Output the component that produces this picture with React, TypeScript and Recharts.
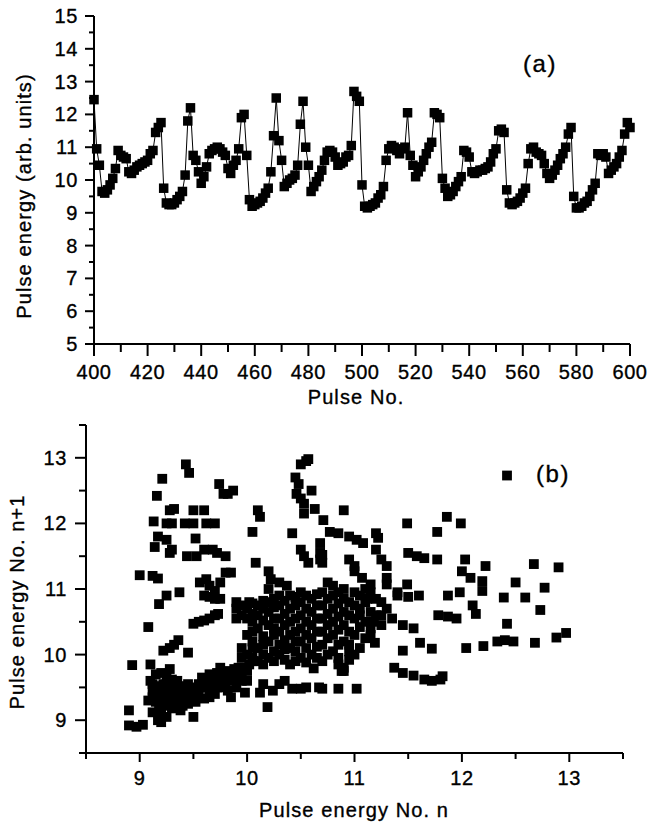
import React from 'react';
import { LineChart, Line, XAxis, YAxis, ScatterChart, Scatter } from 'recharts';

const FONT = '"Liberation Sans", Arial, Helvetica, sans-serif';

// ---------- panel (a): pulse energy vs pulse number ----------
const firstPulse = 400;
const pulseEnergy = [
  12.45, 10.95, 10.45, 9.65, 9.6, 9.7, 9.85, 10.05, 10.35, 10.9,
  10.75, 10.7, 10.65, 10.25, 10.2, 10.3, 10.4, 10.45, 10.5, 10.55,
  10.6, 10.8, 10.9, 11.45, 11.6, 11.75, 9.75, 9.3, 9.25, 9.25,
  9.3, 9.4, 9.5, 9.65, 10.15, 11.8, 12.2, 10.75, 10.6, 10.25,
  9.9, 10.1, 10.4, 10.8, 10.9, 10.95, 11.0, 10.95, 10.85, 10.75,
  10.35, 10.2, 10.45, 10.6, 10.95, 11.9, 12.0, 10.75, 9.4, 9.2,
  9.25, 9.3, 9.35, 9.45, 9.6, 9.75, 10.25, 11.35, 12.5, 11.2,
  10.6, 9.8, 9.9, 10.0, 10.05, 10.15, 10.45, 11.7, 12.4, 11.0,
  10.45, 9.65, 9.8, 9.95, 10.1, 10.3, 10.6, 10.85, 10.9, 10.85,
  10.7, 10.45, 10.5, 10.55, 10.7, 10.75, 11.05, 12.7, 12.55, 12.4,
  9.85, 9.2, 9.15, 9.2, 9.25, 9.3, 9.45, 9.55, 9.8, 10.6,
  10.95, 11.05, 11.0, 10.9, 10.8, 10.95, 11.0, 12.05, 10.75, 10.45,
  10.1, 10.25, 10.4, 10.6, 10.8, 11.0, 11.15, 12.05, 12.0, 11.9,
  10.05, 9.75, 9.5, 9.55, 9.65, 9.8, 9.95, 10.1, 10.9, 10.85,
  10.7, 10.25, 10.2, 10.25, 10.3, 10.3, 10.35, 10.4, 10.55, 10.8,
  10.95, 11.5, 11.55, 11.45, 9.7, 9.3, 9.25, 9.3, 9.35, 9.45,
  9.6, 9.75, 10.5, 10.95, 11.0, 10.85, 10.8, 10.75, 10.5, 10.2,
  10.05, 10.15, 10.3, 10.45, 10.65, 10.8, 11.0, 11.4, 11.6, 9.5,
  9.15, 9.15, 9.2, 9.3, 9.35, 9.5, 9.7, 9.9, 10.8, 10.75,
  10.8, 10.7, 10.2, 10.3, 10.4, 10.5, 10.7, 10.9, 11.4, 11.75,
  11.6,
];
const pulseTicks = [400, 410, 420, 430, 440, 450, 460, 470, 480, 490, 500, 510, 520, 530, 540, 550, 560, 570, 580, 590, 600];
const pulseTickLabels = [400, 420, 440, 460, 480, 500, 520, 540, 560, 580, 600];
const energyTicksA = [5, 5.5, 6, 6.5, 7, 7.5, 8, 8.5, 9, 9.5, 10, 10.5, 11, 11.5, 12, 12.5, 13, 13.5, 14, 14.5, 15];
const energyTickLabelsA = [5, 6, 7, 8, 9, 10, 11, 12, 13, 14, 15];

// ---------- panel (b): return map E(n) -> E(n+1) ----------
const returnMap: [number, number][] = [
  // lower-left band
  [8.9, 9.15], [8.9, 8.92], [8.97, 8.9], [9.03, 8.93], [9.08, 9.3], [9.1, 9.6], [9.12, 9.45], [9.15, 9.28],
  [9.15, 9.52], [9.17, 9.0], [9.18, 9.18], [9.18, 9.38], [9.2, 9.72], [9.2, 9.1], [9.22, 9.3], [9.22, 9.55],
  [9.25, 9.05], [9.25, 9.22], [9.27, 9.42], [9.28, 9.78], [9.3, 9.18], [9.3, 9.33], [9.32, 9.5], [9.35, 9.28],
  [9.35, 9.45], [9.38, 9.22], [9.4, 9.35], [9.42, 9.5], [9.45, 9.3], [9.48, 9.4], [9.5, 9.05], [9.5, 9.33],
  [9.5, 9.5], [9.1, 9.85], [8.93, 9.84], [9.12, 9.12], [9.2, 8.97], [9.25, 9.65], [9.3, 9.62], [9.4, 9.22],
  [9.45, 9.25], [9.15, 9.7], [9.35, 9.6],
  [9.12, 9.35], [9.12, 9.55], [9.2, 9.45], [9.2, 9.25], [9.25, 9.35], [9.25, 9.5], [9.3, 9.25], [9.3, 9.45],
  [9.38, 9.38], [9.38, 9.52], [9.38, 9.15], [9.45, 9.4], [9.45, 9.55], [9.52, 9.45], [9.52, 9.28], [9.58, 9.5],
  [9.65, 9.55], [9.65, 9.35], [9.72, 9.5], [9.72, 9.6], [9.8, 9.55], [9.8, 9.68], [9.88, 9.6], [9.88, 9.78],
  [9.95, 9.6], [9.95, 9.8], [10.0, 9.6],
  [9.55, 9.38], [9.55, 9.55], [9.6, 9.33], [9.6, 9.5], [9.62, 9.6], [9.65, 9.42], [9.68, 9.55], [9.7, 9.4],
  [9.7, 9.65], [9.72, 9.72], [9.75, 9.5], [9.78, 9.62], [9.8, 9.75], [9.82, 9.45], [9.85, 9.35], [9.85, 9.65],
  [9.88, 9.72], [9.9, 9.5], [9.92, 9.8], [9.95, 9.7], [9.98, 9.42], [10.0, 9.75], [10.02, 9.85], [10.05, 9.9],
  [9.75, 9.8], [9.65, 9.7], [9.58, 9.65],
  // upper-left stripe
  [9.08, 10.42], [9.18, 10.77], [9.22, 10.06], [9.25, 10.9], [9.28, 10.1], [9.32, 10.15], [9.36, 10.22],
  [9.37, 10.95], [9.45, 10.03], [9.5, 10.47], [9.55, 10.5], [9.6, 10.52], [9.65, 10.55], [9.7, 10.6],
  [9.73, 10.62], [9.6, 10.9], [9.65, 10.88], [9.7, 10.85], [9.75, 10.85], [9.0, 11.21], [9.12, 11.2], [9.17, 11.16],
  // upper-left peaks
  [9.13, 12.03], [9.16, 12.42], [9.21, 12.68], [9.25, 12.0], [9.3, 12.0], [9.28, 12.2], [9.32, 12.22],
  [9.14, 11.64], [9.17, 11.8], [9.25, 11.75], [9.28, 11.55], [9.3, 11.6], [9.43, 12.9], [9.46, 12.77],
  [9.42, 12.0], [9.5, 12.0], [9.5, 12.2], [9.6, 12.2], [9.52, 11.77], [9.44, 11.5], [9.53, 11.5],
  [9.56, 11.1], [9.62, 11.15], [9.65, 11.05], [9.7, 10.97], [9.74, 12.6], [9.78, 12.45], [9.87, 12.5],
  [9.7, 12.0], [9.68, 11.6], [9.72, 11.55], [9.8, 11.5], [9.8, 11.25], [9.85, 11.25], [10.08, 11.4],
  [10.05, 11.87], [10.1, 12.2], [10.12, 12.1], [9.6, 11.6], [9.75, 11.1], [9.82, 12.45], [9.62, 12.0],
  // middle-top peaks
  [10.2, 11.27], [10.22, 11.15], [10.2, 11.0], [10.3, 11.1], [10.37, 11.05], [10.42, 11.85], [10.45, 12.7],
  [10.5, 12.9], [10.57, 12.98], [10.46, 12.45], [10.5, 12.38], [10.53, 12.3], [10.6, 12.5], [10.53, 12.15],
  [10.63, 12.22], [10.71, 12.05], [10.77, 11.87], [10.5, 11.6], [10.53, 11.5], [10.57, 11.4], [10.68, 11.7],
  [10.68, 11.55], [10.68, 11.45], [10.7, 11.52], [10.7, 11.4], [10.9, 12.2], [10.85, 11.85], [10.95, 11.8],
  [11.02, 11.75], [11.08, 11.7], [11.2, 11.85], [11.22, 11.78], [11.49, 12.0], [11.77, 11.87], [11.86, 12.1],
  [11.99, 12.0], [10.95, 11.45], [11.0, 11.35], [11.2, 11.6], [11.25, 11.45], [11.3, 11.35], [11.5, 11.55],
  [11.58, 11.5], [11.65, 11.47], [11.77, 11.45], [12.03, 11.45], [12.22, 11.35], [12.67, 11.38], [12.9, 11.33],
  [11.0, 11.27], [11.07, 11.17], [11.15, 11.07], [11.3, 11.17], [11.3, 11.07], [11.49, 11.07], [11.4, 10.95],
  [11.87, 10.9], [11.98, 10.95], [12.0, 11.27], [12.08, 11.17], [12.19, 11.12], [12.19, 10.97], [12.5, 11.1],
  [12.39, 10.87], [12.59, 10.87], [12.77, 11.02], [10.75, 11.1], [10.8, 11.05], [12.42, 12.73], [10.48, 12.6],
  [10.55, 12.95],
  // right-lower
  [12.1, 10.75], [12.13, 10.62], [11.78, 10.6], [11.87, 10.58], [11.95, 10.55], [12.33, 10.2], [12.4, 10.22],
  [12.48, 10.2], [12.04, 10.1], [12.2, 10.13], [12.68, 10.18], [12.88, 10.26], [12.97, 10.33], [11.61, 10.18],
  [11.72, 10.09], [11.45, 10.06], [11.37, 9.8], [11.45, 9.72], [11.55, 9.68], [11.65, 9.62], [11.72, 9.6],
  [11.8, 9.62], [11.82, 9.67], [11.19, 10.18], [10.7, 9.48], [10.85, 9.48], [11.02, 9.48], [12.73, 10.68],
  [12.42, 10.47], [11.25, 10.6], [11.35, 10.55], [11.45, 10.45], [11.55, 10.4], [11.3, 10.7], [11.4, 10.9],
  [11.5, 10.88], [11.6, 10.9],
  // lower middle
  [10.12, 9.42], [10.24, 9.45], [10.19, 9.2], [10.35, 9.6], [10.42, 9.48], [10.5, 9.48], [10.62, 9.79],
  [10.67, 9.5], [10.06, 9.9], [10.9, 9.75], [10.85, 9.85], [10.15, 9.55], [10.3, 9.55], [10.55, 9.5],
  // dense central block
  [10.0, 10.0], [10.0, 10.3], [10.0, 10.55], [10.0, 10.7], [10.02, 10.8],
  [10.1, 9.9], [10.1, 10.1], [10.1, 10.4], [10.1, 10.6], [10.1, 10.75],
  [10.2, 9.95], [10.2, 10.2], [10.2, 10.45], [10.2, 10.65], [10.2, 10.8],
  [10.3, 10.0], [10.3, 10.15], [10.3, 10.35], [10.3, 10.55], [10.3, 10.75], [10.3, 10.9],
  [10.4, 9.85], [10.4, 10.1], [10.4, 10.3], [10.4, 10.5], [10.4, 10.7], [10.4, 10.9],
  [10.5, 9.95], [10.5, 10.2], [10.5, 10.4], [10.5, 10.6], [10.5, 10.8], [10.5, 10.95],
  [10.6, 10.0], [10.6, 10.25], [10.6, 10.45], [10.6, 10.65], [10.6, 10.85],
  [10.7, 9.9], [10.7, 10.15], [10.7, 10.35], [10.7, 10.55], [10.7, 10.75], [10.7, 10.95],
  [10.8, 10.05], [10.8, 10.3], [10.8, 10.5], [10.8, 10.7], [10.8, 10.9],
  [10.9, 9.8], [10.9, 10.2], [10.9, 10.45], [10.9, 10.65], [10.9, 10.85], [10.9, 11.0],
  [11.0, 10.0], [11.0, 10.3], [11.0, 10.55], [11.0, 10.75], [11.0, 10.95],
  [11.1, 10.25], [11.1, 10.5], [11.1, 10.8], [11.1, 11.0], [11.2, 10.6], [11.2, 10.85],
  [11.05, 10.7], [11.15, 10.4], [11.12, 10.85], [11.18, 10.5], [10.85, 9.95], [10.95, 10.05], [10.88, 9.75],
  [9.9, 10.55], [9.9, 10.7], [9.9, 10.8], [9.95, 9.95], [9.95, 10.1], [9.95, 10.6], [9.95, 10.75],
  [10.05, 9.95], [10.05, 10.1], [10.05, 10.2], [10.05, 10.35], [10.05, 10.5], [10.05, 10.62], [10.05, 10.78],
  [10.15, 9.85], [10.15, 10.0], [10.15, 10.15], [10.15, 10.28], [10.15, 10.52], [10.15, 10.7], [10.15, 10.82],
  [10.25, 9.9], [10.25, 10.05], [10.25, 10.3], [10.25, 10.4], [10.25, 10.55], [10.25, 10.72], [10.25, 10.85],
  [10.35, 9.92], [10.35, 10.08], [10.35, 10.22], [10.35, 10.45], [10.35, 10.62], [10.35, 10.82],
  [10.45, 9.9], [10.45, 10.05], [10.45, 10.2], [10.45, 10.35], [10.45, 10.55], [10.45, 10.75], [10.45, 10.88],
  [10.55, 9.88], [10.55, 10.1], [10.55, 10.3], [10.55, 10.5], [10.55, 10.7], [10.55, 10.9],
  [10.65, 9.95], [10.65, 10.12], [10.65, 10.35], [10.65, 10.55], [10.65, 10.75], [10.65, 10.92],
  [10.75, 10.0], [10.75, 10.25], [10.75, 10.45], [10.75, 10.62], [10.75, 10.85],
  [10.85, 10.15], [10.85, 10.38], [10.85, 10.58], [10.85, 10.78], [10.85, 10.95],
  [10.95, 9.92], [10.95, 10.15], [10.95, 10.35], [10.95, 10.6], [10.95, 10.8],
  [11.05, 10.1], [11.05, 10.42], [11.05, 10.6], [11.05, 10.9], [11.15, 10.3], [11.15, 10.65], [11.15, 10.95],
  [11.25, 10.45], [11.25, 10.8],
];
const energyTicksB = [8.5, 9, 9.5, 10, 10.5, 11, 11.5, 12, 12.5, 13, 13.5];
const energyTickLabelsB = [9, 10, 11, 12, 13];

const seriesA = pulseEnergy.map((energy, i) => ({ pulse: firstPulse + i, energy }));
const seriesB = returnMap.map(([en, en1]) => ({ en, en1 }));

const tickText = { fontFamily: FONT, fontSize: 20, letterSpacing: 0.6, fill: '#000', stroke: '#000', strokeWidth: 0.35 } as const;

const makeXTick = (labels: number[], majorLen: number, minorLen: number, labelDy: number) =>
  (props: any) => {
    const { x, y, payload } = props;
    const v = payload.value;
    const major = labels.includes(v);
    return (
      <g>
        <line x1={x} y1={y} x2={x} y2={y + (major ? majorLen : minorLen)} stroke="#000" strokeWidth={2} />
        {major && (
          <text x={x} y={y + labelDy} textAnchor="middle" dominantBaseline="central" {...tickText}>
            {v}
          </text>
        )}
      </g>
    );
  };

const makeYTick = (labels: number[], majorLen: number, minorLen: number, labelDx: number) =>
  (props: any) => {
    const { x, y, payload } = props;
    const v = payload.value;
    const major = labels.includes(v);
    return (
      <g>
        <line x1={x} y1={y} x2={x - (major ? majorLen : minorLen)} y2={y} stroke="#000" strokeWidth={2} />
        {major && (
          <text x={x - labelDx} y={y} textAnchor="end" dominantBaseline="central" {...tickText}>
            {v}
          </text>
        )}
      </g>
    );
  };

const squareDot = (size: number) => (props: any) => {
  const { cx, cy, index } = props;
  if (cx == null || cy == null) return <g key={`d${index}`} />;
  return <rect key={`d${index}`} x={cx - size / 2} y={cy - size / 2} width={size} height={size} fill="#000" />;
};

const titleStyle = (left: number, top: number, rotate: boolean, size = 20, ls = 1.1): React.CSSProperties => ({
  position: 'absolute',
  left,
  top,
  transform: `translate(-50%, -50%)${rotate ? ' rotate(-90deg)' : ''}`,
  whiteSpace: 'nowrap',
  fontFamily: FONT,
  fontSize: size,
  letterSpacing: ls,
  color: '#000',
  lineHeight: 1,
  WebkitTextStroke: '0.35px #000',
});

const axisLine = { stroke: '#000', strokeWidth: 2 };

export default function App() {
  return (
    <div style={{ position: 'absolute', left: 0, top: 0, width: 650, height: 827, background: '#fff', overflow: 'hidden' }}>
      <div style={{ position: 'absolute', left: 0, top: 0 }}>
        <LineChart width={650} height={410} data={seriesA} margin={{ top: 16, right: 20, bottom: 26, left: 34 }}>
          <XAxis
            type="number"
            dataKey="pulse"
            domain={[400, 600]}
            ticks={pulseTicks}
            interval={0}
            tickSize={0}
            tickMargin={0}
            tickLine={false}
            height={40}
            axisLine={axisLine}
            tick={makeXTick(pulseTickLabels, 12, 8, 28)}
          />
          <YAxis
            type="number"
            domain={[5, 15]}
            ticks={energyTicksA}
            interval={0}
            tickSize={0}
            tickMargin={0}
            tickLine={false}
            width={60}
            axisLine={axisLine}
            tick={makeYTick(energyTickLabelsA, 9, 5, 16)}
          />
          <Line
            type="linear"
            dataKey="energy"
            stroke="#000"
            strokeWidth={1}
            dot={squareDot(9.5)}
            activeDot={false}
            isAnimationActive={false}
          />
        </LineChart>
      </div>
      <div style={{ position: 'absolute', left: 0, top: 400 }}>
        <ScatterChart width={650} height={427} margin={{ top: 25, right: 27, bottom: 34, left: 26 }}>
          <XAxis
            type="number"
            dataKey="en"
            domain={[8.5, 13.5]}
            ticks={energyTicksB}
            interval={0}
            tickSize={0}
            tickMargin={0}
            tickLine={false}
            height={40}
            axisLine={axisLine}
            tick={makeXTick(energyTickLabelsB, 9, 6, 25)}
          />
          <YAxis
            type="number"
            dataKey="en1"
            domain={[8.5, 13.5]}
            ticks={energyTicksB}
            interval={0}
            tickSize={0}
            tickMargin={0}
            tickLine={false}
            width={60}
            axisLine={axisLine}
            tick={makeYTick(energyTickLabelsB, 11, 7, 19)}
          />
          <Scatter data={seriesB} fill="#000" shape={squareDot(9.8)} isAnimationActive={false} />
        </ScatterChart>
      </div>
      <div style={titleStyle(356, 397, false)}>Pulse No.</div>
      <div style={titleStyle(24, 196, true)}>Pulse energy (arb. units)</div>
      <div style={titleStyle(540, 64, false, 24, 1.5)}>(a)</div>
      <div style={titleStyle(354, 810, false)}>Pulse energy No. n</div>
      <div style={titleStyle(17, 602, true)}>Pulse energy No. n+1</div>
      <div style={titleStyle(553, 474, false, 24, 1.5)}>(b)</div>
    </div>
  );
}
